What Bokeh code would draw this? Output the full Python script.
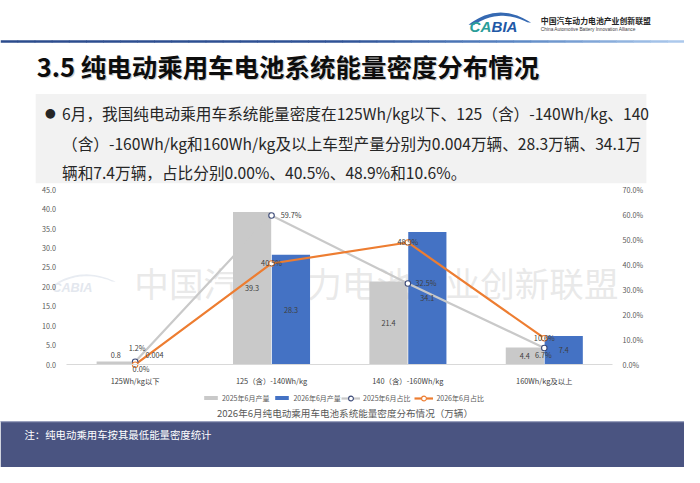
import numpy as np
from bokeh.plotting import figure
from bokeh.models import (ColumnDataSource, Range1d, LinearAxis, FixedTicker,
                          PrintfTickFormatter, Label, LabelSet, Legend, LegendItem)
from bokeh.core.properties import value
from bokeh.embed import file_html
from bokeh.resources import INLINE

# ---------------- data ----------------
categories = ["125Wh/kg以下", "125（含）-140Wh/kg", "140（含）-160Wh/kg", "160Wh/kg及以上"]
prod_2025 = [0.8, 39.3, 21.4, 4.4]
prod_2026 = [0.004, 28.3, 34.1, 7.4]
share_2025 = [1.2, 59.7, 32.5, 6.7]
share_2026 = [0.0, 40.5, 48.9, 10.6]
series_names = ["2025年6月产量", "2026年6月产量", "2025年6月占比", "2026年6月占比"]
count_ticks = [0, 5, 10, 15, 20, 25, 30, 35, 40, 45]
share_ticks = [0, 10, 20, 30, 40, 50, 60, 70]

title_text = "3.5 纯电动乘用车电池系统能量密度分布情况"
body_lines = [
    "6月，我国纯电动乘用车系统能量密度在125Wh/kg以下、125（含）-140Wh/kg、140",
    "（含）-160Wh/kg和160Wh/kg及以上车型产量分别为0.004万辆、28.3万辆、34.1万",
    "辆和7.4万辆，占比分别0.00%、40.5%、48.9%和10.6%。",
]
caption_text = "2026年6月纯电动乘用车电池系统能量密度分布情况（万辆）"
note_text = "注：纯电动乘用车按其最低能量密度统计"
org_cn = "中国汽车动力电池产业创新联盟"
org_en = "China Automotive Battery Innovation Alliance"
watermark_text = "中国汽车动力电池产业创新联盟"

# label placement (style, reference px; +down)
s25_dx = [2, 20, 18.5, -1]
s25_dy = [-14.5, 0, 0, 7.3]
s26_dx = [6, 0, 0, 0]
s26_dy = [4.5, 0, 0, 0]

# ---------------- geometry (reference-pixel space 700x483) ----------------
W, H = 684, 467
SXF, SYF = W / 700, H / 483
FS = (SXF + SYF) / 2
FONT = "Noto Sans CJK SC"
PL, PR, PT, PB = 68.0, 626.3, 195.7, 376.7   # chart plot area
YMAX_C, YMAX_P = 45.0, 70.0


def fpx(v):
    return f"{v * FS:.2f}px"


p = figure(width=W, height=H, x_range=Range1d(0, 700), y_range=Range1d(483, 0),
           x_axis_type=None, y_axis_type=None, output_backend="svg", toolbar_location=None,
           min_border=0)
p.min_border_left = p.min_border_right = p.min_border_top = p.min_border_bottom = 0
p.outline_line_color = None
p.background_fill_color = "white"
p.border_fill_color = "white"

ncat = len(categories)
kx = (PR - PL) / ncat
ky = (PB - PT) / YMAX_C
kp = (PB - PT) / YMAX_P
p.extra_x_ranges = {"cx": Range1d(-PL / kx, (700 - PL) / kx)}
p.extra_y_ranges = {"cnt": Range1d(-(483 - PB) / ky, PB / ky),
                    "pct": Range1d(-(483 - PB) / kp, PB / kp)}

# ---------------- helpers for decorations ----------------
def label(x, y, text, size, color, align="left", style="normal", font=FONT,
          level="annotation", alpha=1.0, baseline="middle"):
    p.add_layout(Label(x=x, y=y, text=text, text_font=font, text_font_size=fpx(size),
                       text_color=color, text_align=align, text_baseline=baseline,
                       text_font_style=style, text_alpha=alpha, level=level))


def rect(x0, x1, y0, y1, color):
    p.quad(left=[x0], right=[x1], top=[y0], bottom=[y1], fill_color=color, line_color=None)


def qbez(p0, p1, p2, n=24):
    t = np.linspace(0, 1, n)[:, None]
    return (1 - t) ** 2 * np.array(p0) + 2 * (1 - t) * t * np.array(p1) + t ** 2 * np.array(p2)


def swoosh(a, b, color):
    pts = np.vstack([qbez(*a), qbez(*b)])
    p.patch(x=list(pts[:, 0]), y=list(pts[:, 1]), fill_color=color, line_color=None)


stops = [(0.0, (43, 75, 140)), (0.5, (47, 82, 150)), (0.75, (90, 134, 196)), (1.0, (176, 205, 238))]


def grad(t):
    for (t0, c0), (t1, c1) in zip(stops[:-1], stops[1:]):
        if t <= t1:
            f = (t - t0) / (t1 - t0)
            return "#%02x%02x%02x" % tuple(int(round(c0[k] + f * (c1[k] - c0[k]))) for k in range(3))
    return "#%02x%02x%02x" % stops[-1][1]


# ---------------- background decorations ----------------
nseg = 40
for i in range(nseg):
    rect(700 * i / nseg, 700 * (i + 1) / nseg + 0.6, 41, 43.6, grad((i + 0.5) / nseg))

swoosh(((479, 25), (510, 1), (543, 23)), ((539, 22.5), (510, 8), (485, 25)), "#3569B2")
label(480, 27, "CA", 15.5, "#2A9D98", style="bold italic", font="Liberation Sans")
label(502.5, 27, "BIA", 15.5, "#2158A6", style="bold italic", font="Liberation Sans")
label(553, 20.5, org_cn, 8.1, "#262626", style="bold")
label(553, 29.5, org_en, 4.9, "#404040", font="Liberation Sans")

label(38.2, 68.7, title_text, 26.2, "#A6A6A6", style="bold", alpha=0.5)
label(37, 67.5, title_text, 26.2, "#0D0D0D", style="bold")

rect(36, 661, 96.7, 189, "#F2F2F2")
label(51, 117, "●", 11, "#262626", align="center")
for i, ln in enumerate(body_lines):
    label(63, [117, 148, 178][i], ln, 16.1, "#262626")

# watermark (under the bars)
label(137, 291.5, watermark_text, 35.6, "#D6D6D6", level="underlay", alpha=0.55)
swoosh(((57, 292), (86, 275), (118, 291)), ((114, 290.5), (86, 279), (61, 292)), "#E8ECF2")
label(53, 297, "CABIA", 13, "#E3E7EE", style="bold italic", font="Liberation Sans", level="underlay")

# ---------------- axes ----------------
cx = np.arange(ncat) + 0.5
xa = LinearAxis(x_range_name="cx", fixed_location=PB, ticker=FixedTicker(ticks=list(cx)),
                major_label_overrides={float(c): n for c, n in zip(cx, categories)},
                bounds=(0, ncat))
ya = LinearAxis(y_range_name="cnt", fixed_location=PL, ticker=FixedTicker(ticks=count_ticks),
                formatter=PrintfTickFormatter(format="%.1f"), bounds=(0, YMAX_C))
ra = LinearAxis(y_range_name="pct", fixed_location=PR, ticker=FixedTicker(ticks=share_ticks),
                formatter=PrintfTickFormatter(format="%.1f%%"), bounds=(0, YMAX_P))
p.add_layout(xa, "below")
p.add_layout(ya, "left")
p.add_layout(ra, "right")

xa.axis_line_color = "#D9D9D9"
xa.axis_line_width = 1.2
xa.major_label_text_font_size = fpx(7.6)
xa.major_label_text_color = "#404040"
xa.major_label_standoff = 4
ya.major_label_standoff = 5
ra.major_label_standoff = 4
for a in (ya, ra):
    a.axis_line_color = None
    a.major_label_text_font_size = fpx(7.4)
    a.major_label_text_color = "#595959"
for a in (xa, ya, ra):
    a.major_tick_line_color = None
    a.minor_tick_line_color = None
    a.major_label_text_font = FONT

# ---------------- chart marks ----------------
off = 0.1425
bw = 0.28
v25 = np.array(prod_2025)
v26 = np.array(prod_2026)
src = ColumnDataSource(dict(
    x=list(cx), x25=list(cx - off), x26=list(cx + off),
    p25=prod_2025, p26=prod_2026, s25=share_2025, s26=share_2026,
    p25_txt=[str(v) for v in prod_2025], p26_txt=[str(v) for v in prod_2026],
    p25_y=list(np.where(v25 < 2, 2.4, v25 / 2)), p26_y=list(np.where(v26 < 2, 2.4, v26 / 2)),
    s25_txt=["%.1f%%" % v for v in share_2025], s26_txt=["%.1f%%" % v for v in share_2026],
    s25_dx=[d * SXF for d in s25_dx], s25_dy=[-d * SYF for d in s25_dy],
    s26_dx=[d * SXF for d in s26_dx], s26_dy=[-d * SYF for d in s26_dy],
))

bar25 = p.vbar(x="x25", top="p25", width=bw, source=src, x_range_name="cx", y_range_name="cnt",
               fill_color="#C9C9C9", line_color=None)
bar26 = p.vbar(x="x26", top="p26", width=bw, source=src, x_range_name="cx", y_range_name="cnt",
               fill_color="#4472C4", line_color=None)

line25 = p.line(x="x", y="s25", source=src, x_range_name="cx", y_range_name="pct",
                line_color="#C9C9C9", line_width=2.2)
line26 = p.line(x="x", y="s26", source=src, x_range_name="cx", y_range_name="pct",
                line_color="#ED7D31", line_width=2.2)
pts25 = p.scatter(x="x", y="s25", source=src, x_range_name="cx", y_range_name="pct",
                  marker="circle", size=5.5, fill_color="white", line_color="#3C4A78", line_width=1.1)
pts26 = p.scatter(x="x", y="s26", source=src, x_range_name="cx", y_range_name="pct",
                  marker="circle", size=5.5, fill_color="white", line_color="#ED7D31", line_width=1.1)

lab_kw = dict(source=src, x_range_name="cx", text_font=value(FONT), text_font_size=fpx(7.5),
              text_color="#404040", text_align="center", text_baseline="middle")
p.add_layout(LabelSet(x="x25", y="p25_y", text="p25_txt", y_range_name="cnt", **lab_kw))
p.add_layout(LabelSet(x="x26", y="p26_y", text="p26_txt", y_range_name="cnt", **lab_kw))
p.add_layout(LabelSet(x="x", y="s25", text="s25_txt", y_range_name="pct",
                      x_offset="s25_dx", y_offset="s25_dy", **lab_kw))
p.add_layout(LabelSet(x="x", y="s26", text="s26_txt", y_range_name="pct",
                      x_offset="s26_dx", y_offset="s26_dy", **lab_kw))

# ---------------- legends ----------------
leg_kw = dict(orientation="horizontal", padding=0, margin=0, border_line_color=None,
              background_fill_alpha=0, label_text_font=FONT, label_text_font_size=fpx(7.2),
              label_text_color="#595959", label_standoff=3, spacing=4, label_height=10)
cy = H - 402.3 * SYF - 9
legA = Legend(items=[LegendItem(label=series_names[0], renderers=[bar25]),
                     LegendItem(label=series_names[1], renderers=[bar26])],
              location=(206.7 * SXF, cy - 5), glyph_width=17, glyph_height=5, **leg_kw)
legB = Legend(items=[LegendItem(label=series_names[2], renderers=[line25, pts25]),
                     LegendItem(label=series_names[3], renderers=[line26, pts26])],
              location=(349 * SXF, cy - 6), glyph_width=19, glyph_height=12, **leg_kw)
p.add_layout(legA, "center")
p.add_layout(legB, "center")

# ---------------- caption & footer ----------------
label(352.5, 426.7, caption_text, 9.85, "#595959", align="center")
rect(0, 700, 435, 484, "#4A5481")
rect(0, 700, 435, 436.2, "#9AA1BE")
label(24.5, 449, note_text, 10.7, "white")

open("out.html", "w").write(file_html(p, INLINE))
